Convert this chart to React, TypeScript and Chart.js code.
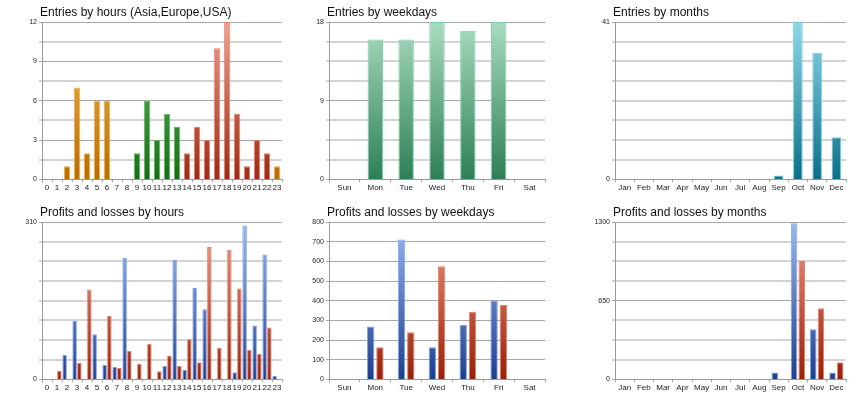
import React, { useEffect, useRef } from "react";
import { Chart, registerables } from "chart.js";
Chart.register(...registerables);

const hours = Array.from({ length: 24 }, (_, i) => String(i));
const weekdays = ["Sun", "Mon", "Tue", "Wed", "Thu", "Fri", "Sat"];
const months = ["Jan", "Feb", "Mar", "Apr", "May", "Jun", "Jul", "Aug", "Sep", "Oct", "Nov", "Dec"];

const entriesByHour = [0, 0, 1, 7, 2, 6, 6, 0, 0, 2, 6, 3, 5, 4, 2, 4, 3, 10, 12, 5, 1, 3, 2, 1];
const hourRegion = ["A","A","A","A","A","A","A","A","A","E","E","E","E","E","U","U","U","U","U","U","U","U","U","A"];
const entriesByWeekday = [0, 16, 16, 18, 17, 18, 0];
const entriesByMonth = [0, 0, 0, 0, 0, 0, 0, 0, 1, 41, 33, 11];

const profitByHour = [0, 0, 48, 115, 0, 89, 29, 25, 239, 0, 0, 0, 27, 235, 19, 180, 138, 0, 0, 14, 303, 106, 246, 7];
const lossByHour = [0, 17, 0, 33, 177, 0, 125, 23, 56, 31, 70, 16, 47, 27, 79, 34, 261, 62, 255, 179, 58, 50, 102, 0];
const profitByWeekday = [0, 269, 711, 163, 277, 399, 0];
const lossByWeekday = [0, 163, 240, 575, 344, 378, 0];
const profitByMonth = [0, 0, 0, 0, 0, 0, 0, 0, 56, 1290, 415, 56];
const lossByMonth = [0, 0, 0, 0, 0, 0, 0, 0, 0, 977, 588, 142];

const PAL: Record<string, [string, string, string]> = {
  orange: ["#f2b860", "#b86e00", "#f0b040"],
  green: ["#6fbf6f", "#156e15", "#5cb85c"],
  red: ["#f0a090", "#9c2a10", "#e88070"],
  teal: ["#8ed8e8", "#0a6f88", "#6fcfe0"],
  mint: ["#a8dcc0", "#2e7f55", "#7fd0a8"],
  blue: ["#9ab8f0", "#1e3f8f", "#7fa2e8"],
  loss: ["#f09a88", "#982008", "#e8806a"],
};

function grad(ctx: any, pal: [string, string, string]) {
  const chart = ctx.chart;
  const a = chart.chartArea;
  if (!a) return pal[1];
  const g = chart.ctx.createLinearGradient(0, a.top, 0, a.bottom);
  g.addColorStop(0, pal[0]);
  g.addColorStop(1, pal[1]);
  return g;
}

const titlePlugin = {
  id: "ltitle",
  afterDraw(chart: any) {
    const t = chart.options.plugins.ltitle?.text;
    if (!t) return;
    const c = chart.ctx;
    c.save();
    c.font = "12px 'Liberation Sans', Arial, sans-serif";
    c.fillStyle = "#111";
    c.textBaseline = "alphabetic";
    c.fillText(t, chart.chartArea.left - 2, 16);
    c.restore();
  },
};

type Cfg = {
  title: string;
  labels: string[];
  datasets: any[];
  max: number;
  labelEvery: number;
  rightPad: number;
  barPct: number;
  catPct: number;
};

function Panel({ cfg }: { cfg: Cfg }) {
  const ref = useRef<HTMLCanvasElement>(null);
  useEffect(() => {
    const step = cfg.max / 8;
    const isLab = (v: number) => {
      const i = Math.round(v / step);
      return i % cfg.labelEvery === 0;
    };
    const chart = new Chart(ref.current!, {
      type: "bar",
      data: { labels: cfg.labels, datasets: cfg.datasets },
      plugins: [titlePlugin],
      options: {
        animation: false,
        responsive: false,
        layout: { padding: { top: 22, left: 8, right: cfg.rightPad, bottom: 6 } },
        datasets: { bar: { barPercentage: cfg.barPct, categoryPercentage: cfg.catPct, borderWidth: 1 } } as any,
        plugins: { legend: { display: false }, tooltip: { enabled: false }, ltitle: { text: cfg.title } } as any,
        scales: {
          x: {
            grid: { drawOnChartArea: false, drawTicks: true, tickLength: 3, color: "#aaa", offset: true },
            border: { color: "#999" },
            ticks: { font: { size: 8, family: "'Liberation Sans', Arial" }, color: "#222", padding: 1, maxRotation: 0, autoSkip: false },
          },
          y: {
            min: 0,
            max: cfg.max,
            afterFit: (s: any) => { s.width = 34; },
            afterBuildTicks: (s: any) => {
              s.ticks = Array.from({ length: 9 }, (_, i) => ({ value: i * step }));
            },
            grid: {
              color: (c: any) => (isLab(c.tick?.value ?? 0) ? "#a8a8a8" : "#d4d4d4"),
              lineWidth: (c: any) => (isLab(c.tick?.value ?? 0) ? 1 : 2),
              drawTicks: true,
              tickLength: 3,
            },
            border: { color: "#999" },
            ticks: {
              font: { size: 7, family: "'Liberation Sans', Arial" },
              color: "#222",
              padding: 2,
              callback: (v: any) => (isLab(Number(v)) ? String(Math.round(Number(v))) : ""),
            },
          },
        },
      },
    });
    return () => chart.destroy();
  }, []);
  return <canvas ref={ref} width={cfg.rightPad === 5 ? 287 : 286} height={200} style={{ display: "block" }} />;
}

function ds(data: number[], pal: [string, string, string] | ((i: number) => [string, string, string])) {
  const get = typeof pal === "function" ? pal : () => pal;
  return {
    data,
    backgroundColor: (ctx: any) => grad(ctx, get(ctx.dataIndex)),
    borderColor: (ctx: any) => get(ctx.dataIndex)[2],
  };
}

const regionPal = (i: number) => (hourRegion[i] === "A" ? PAL.orange : hourRegion[i] === "E" ? PAL.green : PAL.red);

const cfgs: Cfg[] = [
  { title: "Entries by hours (Asia,Europe,USA)", labels: hours, datasets: [ds(entriesByHour, regionPal)], max: 12, labelEvery: 2, rightPad: 5, barPct: 0.65, catPct: 1 },
  { title: "Entries by weekdays", labels: weekdays, datasets: [ds(entriesByWeekday, PAL.mint)], max: 18, labelEvery: 4, rightPad: 28, barPct: 0.5, catPct: 1 },
  { title: "Entries by months", labels: months, datasets: [ds(entriesByMonth, PAL.teal)], max: 41, labelEvery: 8, rightPad: 13, barPct: 0.5, catPct: 1 },
  { title: "Profits and losses by hours", labels: hours, datasets: [ds(profitByHour, PAL.blue), ds(lossByHour, PAL.loss)], max: 310, labelEvery: 8, rightPad: 5, barPct: 0.95, catPct: 0.95 },
  { title: "Profits and losses by weekdays", labels: weekdays, datasets: [ds(profitByWeekday, PAL.blue), ds(lossByWeekday, PAL.loss)], max: 800, labelEvery: 1, rightPad: 28, barPct: 0.8, catPct: 0.6 },
  { title: "Profits and losses by months", labels: months, datasets: [ds(profitByMonth, PAL.blue), ds(lossByMonth, PAL.loss)], max: 1300, labelEvery: 4, rightPad: 13, barPct: 0.85, catPct: 0.8 },
];

export default function App() {
  return (
    <div style={{ position: "absolute", left: 0, top: 0, width: 860, height: 400, background: "#fff", display: "grid", gridTemplateColumns: "287px 286px 287px", gridTemplateRows: "200px 200px" }}>
      {cfgs.map((c, i) => (
        <Panel key={i} cfg={c} />
      ))}
    </div>
  );
}
